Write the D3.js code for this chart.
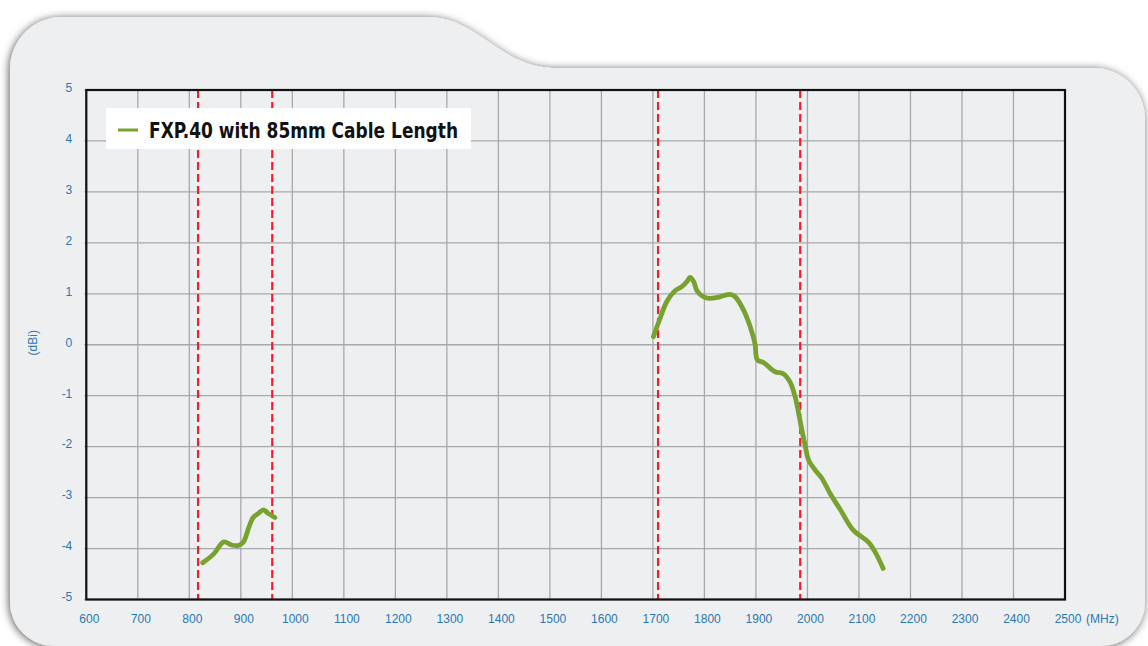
<!DOCTYPE html>
<html>
<head>
<meta charset="utf-8">
<script src="https://cdn.jsdelivr.net/npm/d3@7"></script>
<style>
  html, body { margin: 0; padding: 0; background: #ffffff; }
  svg { display: block; }
</style>
</head>
<body>
<svg id="chart" width="1148" height="646"></svg>
<script>
// ---- data ----
const xTicks = [600, 700, 800, 900, 1000, 1100, 1200, 1300, 1400, 1500, 1600, 1700, 1800, 1900, 2000, 2100, 2200, 2300, 2400, 2500];
const yTicks = [5, 4, 3, 2, 1, 0, -1, -2, -3, -4, -5];
const bandMarkers = [817, 961, 1710, 1986];

const lowBandFreq = [826, 847, 867, 882, 895, 905, 915, 924, 934, 944, 953, 966];
const lowBandGain = [-4.28, -4.11, -3.87, -3.93, -3.94, -3.87, -3.60, -3.39, -3.31, -3.24, -3.31, -3.39];

const highBandFreq = [1701, 1714, 1727, 1743, 1756, 1766, 1772, 1779, 1785, 1795, 1808, 1830, 1850, 1860, 1876, 1889, 1898, 1903, 1915, 1937, 1953, 1966, 1976, 1983, 1989, 1996, 2002, 2015, 2028, 2044, 2064, 2089, 2118, 2131, 2147];
const highBandGain = [0.16, 0.52, 0.85, 1.06, 1.14, 1.24, 1.32, 1.24, 1.07, 0.96, 0.91, 0.94, 0.99, 0.94, 0.68, 0.35, 0.03, -0.30, -0.35, -0.53, -0.57, -0.73, -1.02, -1.35, -1.67, -2.00, -2.26, -2.46, -2.62, -2.92, -3.24, -3.64, -3.87, -4.06, -4.39];

const legendLabel = "FXP.40 with 85mm Cable Length";
const xUnit = "(MHz)";
const yTitle = "(dBi)";

// ---- layout ----
const svg = d3.select("#chart");
const blue = "#2a77b6";
const green = "#78a22f";
const red = "#ee1f2b";
const labelFont = "'Liberation Sans', Arial, sans-serif";

const defs = svg.append("defs");
const f = defs.append("filter").attr("id", "shadow").attr("x", "-5%").attr("y", "-10%").attr("width", "110%").attr("height", "120%");
f.append("feDropShadow").attr("dx", -1).attr("dy", 1).attr("stdDeviation", 4).attr("flood-color", "#000").attr("flood-opacity", 0.65);

// panel with tab
const panelPath = [
  "M 10 68",
  "A 52 52 0 0 1 62 17",
  "L 428 17",
  "C 478 17 500 68 556 68",
  "L 1094 68",
  "A 51 51 0 0 1 1145 119",
  "L 1145 602",
  "A 44 44 0 0 1 1101 646",
  "L 54 646",
  "A 44 44 0 0 1 10 602",
  "Z"
].join(" ");
svg.append("path").attr("d", panelPath).attr("fill", "#eeeff1").attr("filter", "url(#shadow)");

const L = 86.3, R = 1065, T = 90, B = 599.5;
const x = d3.scaleLinear().domain([600, 2500]).range([L, R]);
const y = d3.scaleLinear().domain([-5, 5]).range([B, T]);

// grid
const grid = svg.append("g");
grid.selectAll("line.vx").data(xTicks).join("line")
  .attr("x1", d => x(d)).attr("x2", d => x(d)).attr("y1", T).attr("y2", B)
  .attr("stroke", "#a9a9ab").attr("stroke-width", 1.3);
grid.selectAll("line.hy").data(yTicks).join("line")
  .attr("x1", L - 2).attr("x2", R + 1).attr("y1", d => y(d)).attr("y2", d => y(d))
  .attr("stroke", "#a9a9ab").attr("stroke-width", 1.3);

// axes labels via d3 axes
const xAxis = svg.append("g").attr("transform", `translate(2.5,${B})`)
  .call(d3.axisBottom(x).tickValues(xTicks).tickSize(0).tickPadding(15).tickFormat(d => String(d)));
xAxis.select(".domain").remove();
xAxis.selectAll("text").attr("fill", blue).style("font-family", labelFont).style("font-size", "12px");

const yAxis = svg.append("g").attr("transform", `translate(${L},-2.5)`)
  .call(d3.axisLeft(y).tickValues(yTicks).tickSize(0).tickPadding(14).tickFormat(d => String(d)));
yAxis.select(".domain").remove();
yAxis.selectAll("text").attr("fill", blue).style("font-family", labelFont).style("font-size", "12px");

svg.append("text").text(xUnit).attr("x", 1086).attr("y", 623)
  .attr("fill", blue).style("font-family", labelFont).style("font-size", "12px");
svg.append("text").text(yTitle)
  .attr("transform", `translate(37,${(T + B) / 2 - 2}) rotate(-90)`).attr("text-anchor", "middle")
  .attr("fill", blue).style("font-family", labelFont).style("font-size", "12px");

// band markers
svg.selectAll("line.band").data(bandMarkers).join("line")
  .attr("x1", d => x(d)).attr("x2", d => x(d)).attr("y1", T).attr("y2", B)
  .attr("stroke", red).attr("stroke-width", 2.2).attr("stroke-dasharray", "8,4");

// curves
const line = d3.line().x(d => x(d[0])).y(d => y(d[1])).curve(d3.curveCatmullRom.alpha(0.5));
const lowBand = lowBandFreq.map((f, i) => [f, lowBandGain[i]]);
const highBand = highBandFreq.map((f, i) => [f, highBandGain[i]]);
[lowBand, highBand].forEach(s => {
  svg.append("path").datum(s).attr("d", line).attr("fill", "none")
    .attr("stroke", green).attr("stroke-width", 4.8).attr("stroke-linecap", "round").attr("stroke-linejoin", "round");
});

// plot border
svg.append("rect").attr("x", L).attr("y", T).attr("width", R - L).attr("height", B - T)
  .attr("fill", "none").attr("stroke", "#111").attr("stroke-width", 2.2);

// legend
const lg = svg.append("g");
lg.append("rect").attr("x", 106).attr("y", 108).attr("width", 365).attr("height", 41).attr("fill", "#ffffff");
lg.append("line").attr("x1", 118).attr("x2", 138).attr("y1", 130).attr("y2", 130).attr("stroke", green).attr("stroke-width", 3);
lg.append("text").text(legendLabel).attr("x", 149).attr("y", 138)
  .attr("textLength", 309).attr("lengthAdjust", "spacingAndGlyphs")
  .attr("fill", "#111").style("font-family", "'DejaVu Sans Condensed', 'Liberation Sans Narrow', Roboto, sans-serif")
  .style("font-weight", "bold").style("font-size", "21px");
</script>
</body>
</html>
